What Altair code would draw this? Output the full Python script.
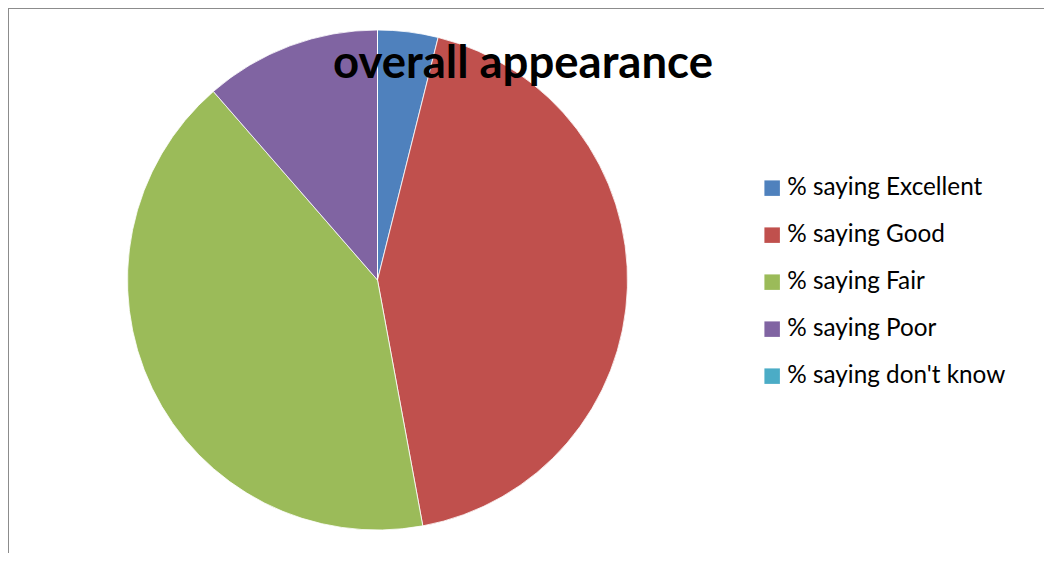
import altair as alt
import pandas as pd

categories = ["% saying Excellent", "% saying Good", "% saying Fair", "% saying Poor", "% saying don't know"]
values = [3.9, 43.2, 41.5, 11.4, 0.0]
colors = ["#4F81BD", "#C0504D", "#9BBB59", "#8064A2", "#4BACC6"]
title_text = "overall appearance"

df = pd.DataFrame({"category": categories, "value": values, "idx": list(range(len(categories)))})

W, H = 1036, 545

color_scale = alt.Scale(domain=categories, range=colors)

pie = alt.Chart(df).mark_arc(outerRadius=250, stroke="white", strokeWidth=0.8).encode(
    theta=alt.Theta("value:Q", stack=True),
    order=alt.Order("idx:Q", sort="ascending"),
    color=alt.Color(
        "category:N",
        scale=color_scale,
        sort=categories,
        legend=alt.Legend(
            title=None,
            orient="none",
            legendX=752,
            legendY=168,
            symbolType="square",
            symbolSize=240,
            symbolStrokeWidth=0,
            symbolOpacity=1,
            labelFont="Lato",
            labelFontSize=24.3,
            labelColor="#000000",
            labelOffset=3,
            rowPadding=22,
            labelLimit=400,
        ),
    ),
    x=alt.value(369.5),
    y=alt.value(272),
)

title = alt.Chart(pd.DataFrame({"t": [title_text]})).mark_text(
    font="Lato", fontWeight="bold", fontSize=45.5, align="center", baseline="alphabetic", color="#000000"
).encode(text="t:N", x=alt.value(515), y=alt.value(70))

border_df = pd.DataFrame({"b": [0]})
top_rule = alt.Chart(border_df).mark_rule(color="#8c8c8c", strokeWidth=2).encode(
    x=alt.value(0), x2=alt.value(W), y=alt.value(0)
)
left_rule = alt.Chart(border_df).mark_rule(color="#8c8c8c", strokeWidth=2).encode(
    x=alt.value(0), y=alt.value(0), y2=alt.value(H)
)

chart = alt.layer(pie, title, top_rule, left_rule).properties(
    width=W, height=H, padding=0,
    autosize=alt.AutoSizeParams(type="none"),
    background="white",
).configure_view(stroke=None)

chart.save("out.html", embed_options={"renderer": "svg", "actions": False})
